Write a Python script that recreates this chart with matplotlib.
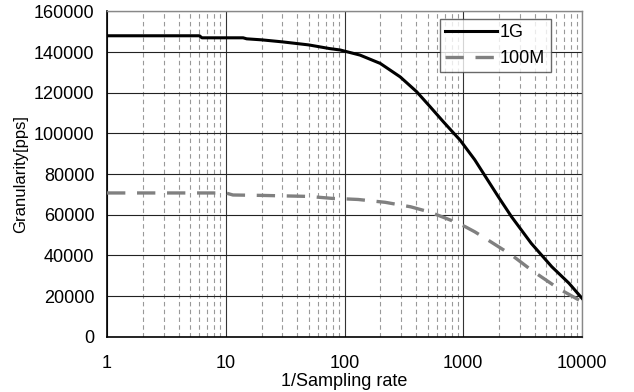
import numpy as np
import matplotlib
matplotlib.use('Agg')
import matplotlib.pyplot as plt
from matplotlib.ticker import LogLocator, NullFormatter, FixedLocator

plt.rcParams['font.family'] = ['Liberation Sans', 'DejaVu Sans']

# 1G curve
x_1g = [1, 6, 6.3, 14, 15, 20, 30, 50, 75, 92, 135, 200, 294, 405, 526,
        680, 846, 940, 1250, 1975, 2550, 3740, 5570, 7770, 10000]
y_1g = [148000, 148000, 147000, 147000, 146500, 146000, 145000, 143500,
        141700, 141000, 138500, 134400, 127800, 120500, 113100,
        105700, 99600, 96700, 87000, 68800, 59000, 45900, 34400, 26300,
        18900]

# 100M curve
x_100m = [1, 10, 11.5, 20, 50, 80, 100, 130, 220, 360, 530, 850,
          1040, 1250, 1620, 2550, 3740, 6300, 10000]
y_100m = [70700, 70700, 69700, 69500, 69000, 68000, 67800, 67500, 66100,
          63900, 61200, 56500, 54100, 51600, 47500, 40200, 32800, 23800,
          17200]

xticks = [1, 10, 100, 1000, 10000]
yticks = [0, 20000, 40000, 60000, 80000, 100000, 120000, 140000, 160000]

fig = plt.figure(figsize=(6.34, 3.92), dpi=100)
ax = fig.add_axes([0.1688, 0.141, 0.7492, 0.830])

ax.plot(x_1g, y_1g, color='black', lw=2.2, label='1G', zorder=4)
ax.plot(x_100m, y_100m, color='#808080', lw=2.4, dashes=(5.5, 3.5),
        dash_capstyle='butt', label='100M', zorder=3)

ax.set_xscale('log')
ax.set_xlim(1, 10000)
ax.set_ylim(0, 160000)
ax.xaxis.set_major_locator(FixedLocator(xticks))
ax.set_xticklabels([str(v) for v in xticks])
ax.xaxis.set_minor_locator(LogLocator(base=10, subs=np.arange(2, 10)))
ax.xaxis.set_minor_formatter(NullFormatter())
ax.set_yticks(yticks)
ax.set_yticklabels([str(v) for v in yticks])

ax.grid(which='major', axis='y', color='#222222', lw=0.8)
ax.grid(which='major', axis='x', color='#333333', lw=0.8)
ax.grid(which='minor', axis='x', color='#999999', lw=0.8, dashes=(4, 3))
ax.set_axisbelow(True)

ax.tick_params(axis='both', which='both', length=0, labelsize=13)
ax.tick_params(axis='x', pad=13)
ax.tick_params(axis='y', pad=9)

for side in ['top', 'right']:
    ax.spines[side].set_color('#888888')
    ax.spines[side].set_linewidth(1.0)
for side in ['left', 'bottom']:
    ax.spines[side].set_color('black')
    ax.spines[side].set_linewidth(1.2)

ax.set_xlabel('1/Sampling rate', fontsize=13, labelpad=1)
ax.set_ylabel('Granularity[pps]', fontsize=12, labelpad=4)

leg = ax.legend(loc='upper right', bbox_to_anchor=(0.934, 0.978),
                borderaxespad=0, fontsize=13, frameon=True, fancybox=False,
                edgecolor='#444444', handlelength=2.9, handletextpad=0.15,
                borderpad=0.3, labelspacing=0.5)
leg.get_frame().set_linewidth(1.0)

fig.savefig('out.png', dpi=100)
